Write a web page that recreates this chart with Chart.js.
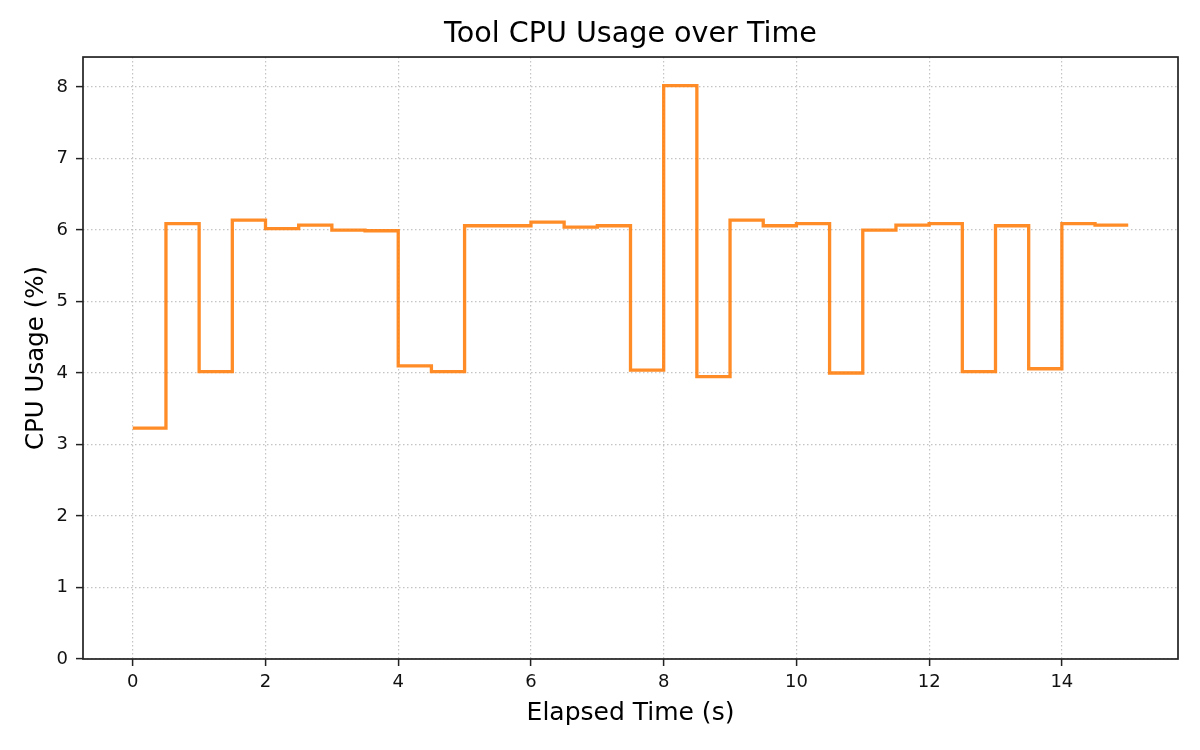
<!DOCTYPE html>
<html>
<head>
<meta charset="utf-8">
<script src="https://cdn.jsdelivr.net/npm/chart.js@4/dist/chart.umd.min.js"></script>
<style>
  html, body { margin: 0; padding: 0; background: #fff; }
  #c { display: block; }
</style>
</head>
<body>
<canvas id="c" width="1200" height="750"></canvas>
<script>
const titleText = 'Tool CPU Usage over Time';
const xLabel = 'Elapsed Time (s)';
const yLabel = 'CPU Usage (%)';
const times = [0, 0.5, 1, 1.5, 2, 2.5, 3, 3.5, 4, 4.5, 5, 5.5, 6, 6.5, 7, 7.5, 8, 8.5, 9, 9.5, 10, 10.5, 11, 11.5, 12, 12.5, 13, 13.5, 14, 14.5, 15];
const cpu = [3.23, 6.09, 4.02, 6.14, 6.02, 6.07, 6.00, 5.99, 4.10, 4.02, 6.06, 6.06, 6.11, 6.04, 6.06, 4.04, 8.02, 3.95, 6.14, 6.06, 6.09, 4.00, 6.00, 6.07, 6.09, 4.02, 6.06, 4.06, 6.09, 6.07, 6.07];
const xTicks = [0, 2, 4, 6, 8, 10, 12, 14];
const yTicks = [0, 1, 2, 3, 4, 5, 6, 7, 8];

const FONT = 'DejaVu Sans';

const framePlugin = {
  id: 'frame',
  afterDatasetsDraw(chart) {
    const a = chart.chartArea, ctx = chart.ctx;
    ctx.save();
    ctx.strokeStyle = '#222';
    ctx.lineWidth = 1.7;
    ctx.strokeRect(a.left, a.top, a.right - a.left, a.bottom - a.top);
    ctx.restore();
  }
};

new Chart(document.getElementById('c'), {
  type: 'line',
  data: {
    datasets: [{
      data: times.map((t, i) => ({ x: t, y: cpu[i] })),
      borderColor: 'rgba(255,127,14,0.9)',
      borderWidth: 3.3,
      stepped: 'before',
      pointRadius: 0,
      fill: false,
      borderJoinStyle: 'miter',
      borderCapStyle: 'butt'
    }]
  },
  options: {
    responsive: false,
    devicePixelRatio: 1,
    animation: false,
    layout: { padding: { left: 0, right: 22, top: 0, bottom: 0 } },
    plugins: {
      legend: { display: false },
      tooltip: { enabled: false },
      title: {
        display: true,
        text: titleText,
        fullSize: false,
        color: '#000',
        font: { family: FONT, size: 28.6, weight: 'normal' },
        padding: { top: 17, bottom: 5.7 }
      }
    },
    scales: {
      x: {
        type: 'linear',
        min: -0.75,
        max: 15.75,
        afterBuildTicks: s => { s.ticks = xTicks.map(v => ({ value: v })); },
        afterFit: s => { s.height = 91; },
        ticks: {
          color: '#111',
          font: { family: FONT, size: 18 },
          padding: 6,
          maxRotation: 0,
          autoSkip: false,
          callback: v => String(v)
        },
        grid: {
          color: '#c4c4c4',
          lineWidth: 1.2,
          drawTicks: true,
          tickLength: 7,
          tickColor: '#222',
          tickWidth: 1.5,
          tickBorderDash: []
        },
        border: { display: false, dash: [1.5, 2.5] },
        title: {
          display: true,
          text: xLabel,
          color: '#000',
          font: { family: FONT, size: 25 },
          padding: { top: 0, bottom: 21.5 }
        }
      },
      y: {
        type: 'linear',
        min: 0,
        max: 8.42,
        afterBuildTicks: s => { s.ticks = yTicks.map(v => ({ value: v })); },
        afterFit: s => { s.width = 83; },
        ticks: {
          color: '#111',
          font: { family: FONT, size: 18 },
          padding: 8,
          autoSkip: false,
          callback: v => String(v)
        },
        grid: {
          color: '#c4c4c4',
          lineWidth: 1.2,
          drawTicks: true,
          tickLength: 7,
          tickColor: '#222',
          tickWidth: 1.5,
          tickBorderDash: []
        },
        border: { display: false, dash: [1.5, 2.5] },
        title: {
          display: true,
          text: yLabel,
          color: '#000',
          font: { family: FONT, size: 24.5 },
          padding: { top: 22, bottom: 0 }
        }
      }
    }
  },
  plugins: [framePlugin]
});
</script>
</body>
</html>
